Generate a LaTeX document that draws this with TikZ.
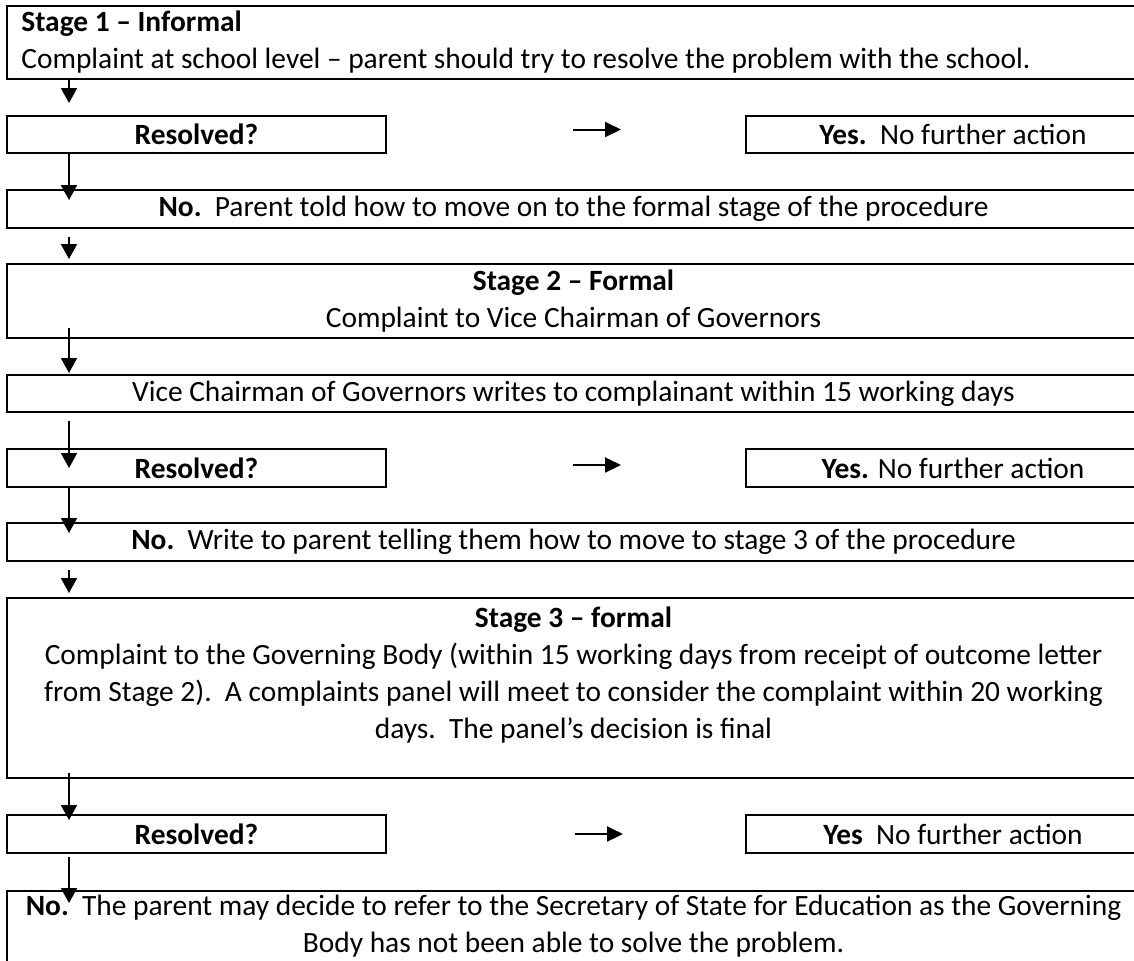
\documentclass[tikz,border=0pt]{standalone}
\usepackage{fontspec}
\setmainfont{Carlito}
\usetikzlibrary{arrows.meta}
\newlength\refw
\begin{document}
\settowidth{\refw}{\fontsize{10}{12}\selectfont Complaint at school level – parent should try to resolve the problem with the school.}%
\pgfmathsetmacro\fs{10*504.5/\refw}%
\begin{tikzpicture}[x=0.5pt,y=-0.5pt]
\tikzset{
  every node/.append style={font=\fontsize{\fs}{18.5}\selectfont},
  box/.style={draw, line width=0.6pt, inner sep=0pt, align=center},
  txt/.style={inner sep=0pt, align=center},
  varrow/.style={line width=0.95pt, -{Triangle[length=7.5pt,width=8pt]}},
  harrow/.style={line width=1pt, -{Triangle[length=8pt,width=7.5pt]}},
}
\useasboundingbox (0,0) rectangle (1134,960);
\clip (0,0) rectangle (1134,960);

% boxes
\node[box, minimum width=566.5pt, minimum height=36.5pt] (b1) at (573.5,42.5) {};
\node[txt, align=left, anchor=west] (b1t) at (21,42.5)
  {\textbf{Stage 1 – Informal}\\Complaint at school level – parent should try to resolve the problem with the school.};
\node[box, minimum width=189.5pt, minimum height=18.5pt] (r1) at (196.5,134.5) {\textbf{Resolved?}};
\node[box, minimum width=207pt, minimum height=18.5pt] (y1) at (953,134.5) {\textbf{Yes.}\ \ No further action};
\node[box, minimum width=566.5pt, minimum height=19pt] (n1) at (573.5,209) {\textbf{No.}\ \ Parent told how to move on to the formal stage of the procedure};
\node[box, minimum width=566.5pt, minimum height=37pt] (s2) at (573.5,301) {\textbf{Stage 2 – Formal}\\Complaint to Vice Chairman of Governors};
\node[box, minimum width=566.5pt, minimum height=18.5pt] (v) at (573.5,393.5) {Vice Chairman of Governors writes to complainant within 15 working days};
\node[box, minimum width=189.5pt, minimum height=19pt] (r2) at (196.5,468) {\textbf{Resolved?}};
\node[box, minimum width=207pt, minimum height=19pt] (y2) at (953,468) {\textbf{Yes.} No further action};
\node[box, minimum width=566.5pt, minimum height=19pt] (n2) at (573.5,542) {\textbf{No.}\ \ Write to parent telling them how to move to stage 3 of the procedure};
\node[box, minimum width=566.5pt, minimum height=90pt] (s3) at (573.5,688) {};
\node[txt, anchor=north] (s3t) at (573.5,606)
  {\textbf{Stage 3 – formal}\\Complaint to the Governing Body (within 15 working days from receipt of outcome letter\\from Stage 2).\ \ A complaints panel will meet to consider the complaint within 20 working\\days.\ \ The panel’s decision is final};
\node[box, minimum width=189.5pt, minimum height=19pt] (r3) at (196.5,834) {\textbf{Resolved?}};
\node[box, minimum width=207pt, minimum height=19pt] (y3) at (953,834) {\textbf{Yes}\ \ No further action};
\node[box, minimum width=566.5pt, minimum height=42pt] (f) at (573.5,933) {};
\node[txt, anchor=north] (ft) at (573.5,895)
  {\textbf{No.}\ \ The parent may decide to refer to the Secretary of State for Education as the Governing\\Body has not been able to solve the problem.};

% arrow coordinates
\coordinate (ax) at (69,0);
\coordinate (t1) at (69,103);
\coordinate (t2) at (69,200);
\coordinate (u3) at (69,237);
\coordinate (t3) at (69,259);
\coordinate (u4) at (69,328);
\coordinate (t4) at (69,373);
\coordinate (u5) at (69,421);
\coordinate (t5) at (69,468);
\coordinate (t6) at (69,533);
\coordinate (u7) at (69,570);
\coordinate (t7) at (69,593);
\coordinate (u8) at (69,773);
\coordinate (t8) at (69,820);
\coordinate (u9) at (69,857);
\coordinate (t9) at (69,903);
\coordinate (h1s) at (573,129.5);
\coordinate (h1e) at (621,129.5);
\coordinate (h2s) at (573,465);
\coordinate (h2e) at (621,465);
\coordinate (h3s) at (575,834);
\coordinate (h3e) at (623,834);

\draw[varrow] (b1.south -| ax) -- (t1);
\draw[varrow] (r1.south -| ax) -- (t2);
\draw[varrow] (u3) -- (t3);
\draw[varrow] (u4) -- (t4);
\draw[varrow] (u5) -- (t5);
\draw[varrow] (r2.south -| ax) -- (t6);
\draw[varrow] (u7) -- (t7);
\draw[varrow] (u8) -- (t8);
\draw[varrow] (u9) -- (t9);
\draw[harrow] (h1s) -- (h1e);
\draw[harrow] (h2s) -- (h2e);
\draw[harrow] (h3s) -- (h3e);
\end{tikzpicture}
\end{document}
